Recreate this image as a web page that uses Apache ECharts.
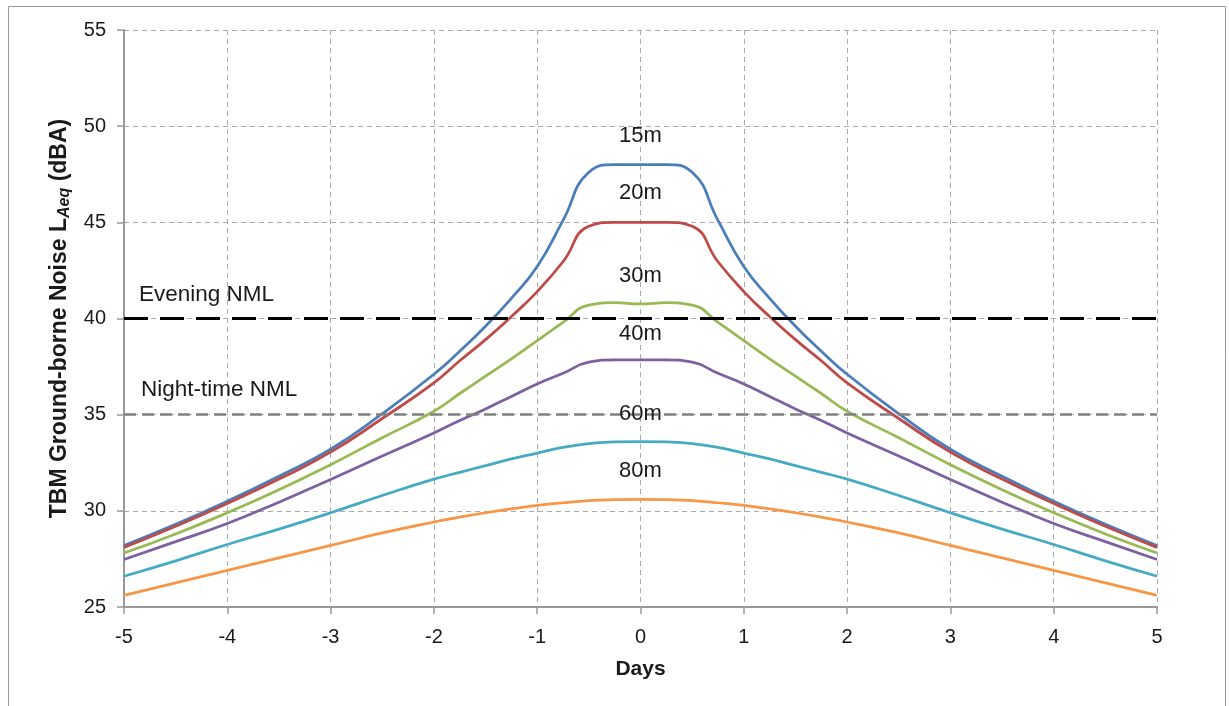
<!DOCTYPE html>
<html>
<head>
<meta charset="utf-8">
<script src="https://cdn.jsdelivr.net/npm/echarts@6/dist/echarts.min.js"></script>
<style>
html,body{margin:0;padding:0;background:#fff;}
#chart{width:1229px;height:706px;}
</style>
</head>
<body>
<div id="chart"></div>
<script>
// ---- data ----
const days = [-5, -4.5, -4, -3.5, -3, -2.5, -2, -1.75, -1.5, -1.25, -1, -0.75, -0.5, -0.25, 0, 0.25, 0.5, 0.75, 1, 1.25, 1.5, 1.75, 2, 2.5, 3, 3.5, 4, 4.5, 5];
const seriesNames = ['15m', '20m', '30m', '40m', '60m', '80m'];
const d15 = [28.2, 29.3, 30.5, 31.8, 33.2, 35.05, 37.1, 38.3, 39.6, 41.05, 42.7, 45.1, 47.6, 48.0, 48.0, 48.0, 47.6, 45.1, 42.7, 41.05, 39.6, 38.3, 37.1, 35.05, 33.2, 31.8, 30.5, 29.3, 28.2];
const d20 = [28.1, 29.2, 30.38, 31.65, 33.05, 34.8, 36.65, 37.8, 38.9, 40.1, 41.4, 42.95, 44.8, 45.0, 45.0, 45.0, 44.8, 42.95, 41.4, 40.1, 38.9, 37.8, 36.65, 34.8, 33.05, 31.65, 30.38, 29.2, 28.1];
const d30 = [27.81, 28.8, 29.9, 31.1, 32.4, 33.8, 35.18, 36.1, 37.0, 37.9, 38.85, 39.8, 40.7, 40.82, 40.76, 40.82, 40.7, 39.8, 38.85, 37.9, 37.0, 36.1, 35.18, 33.8, 32.4, 31.1, 29.9, 28.8, 27.81];
const d40 = [27.47, 28.4, 29.34, 30.45, 31.63, 32.85, 34.05, 34.7, 35.3, 35.95, 36.6, 37.15, 37.73, 37.85, 37.85, 37.85, 37.73, 37.15, 36.6, 35.95, 35.3, 34.7, 34.05, 32.85, 31.63, 30.45, 29.34, 28.4, 27.47];
const d60 = [26.6, 27.4, 28.25, 29.05, 29.9, 30.8, 31.65, 32.0, 32.35, 32.7, 33.0, 33.3, 33.5, 33.58, 33.6, 33.58, 33.5, 33.3, 33.0, 32.7, 32.35, 32.0, 31.65, 30.8, 29.9, 29.05, 28.25, 27.4, 26.6];
const d80 = [25.6, 26.25, 26.9, 27.55, 28.2, 28.85, 29.42, 29.67, 29.9, 30.1, 30.28, 30.42, 30.53, 30.58, 30.6, 30.58, 30.53, 30.42, 30.28, 30.1, 29.9, 29.67, 29.42, 28.85, 28.2, 27.55, 26.9, 26.25, 25.6];
const seriesData = [d15, d20, d30, d40, d60, d80];
const curveLabelY = [49.5, 46.55, 42.23, 39.2, 35.04, 32.05];
const eveningNML = 40;
const nightNML = 35;
const colors = ['#4A7EBB', '#BE4B48', '#98B954', '#7D60A0', '#46AAC5', '#F79646'];

const chart = echarts.init(document.getElementById('chart'));
const font = 'Liberation Sans, Arial, sans-serif';
const txt = '#1a1a1a';

const series = seriesNames.map((name, i) => ({
  name: name,
  type: 'line',
  data: days.map((x, j) => [x, seriesData[i][j]]),
  smooth: 0.5,
  symbol: 'none',
  lineStyle: { color: colors[i], width: 2.75 },
  z: 3
}));

// curve labels
series.push({
  name: 'labels',
  type: 'scatter',
  symbolSize: 1,
  itemStyle: { color: 'rgba(0,0,0,0)', opacity: 1 },
  data: seriesNames.map((n, i) => ({ value: [0, curveLabelY[i]], name: n })),
  label: {
    show: true, position: 'inside', formatter: p => p.name,
    fontFamily: font, fontSize: 22, color: txt, opacity: 1
  },
  z: 5,
  silent: true
});

// NML lines
series.push({
  name: 'nml',
  type: 'line',
  data: [],
  markLine: {
    silent: true,
    symbol: 'none',
    data: [
      { yAxis: eveningNML, lineStyle: { color: '#000', width: 3, type: [24, 12] },
        label: { show: true, formatter: 'Evening NML', position: 'insideStartTop', distance: [15, 12],
          fontFamily: font, fontSize: 22.5, color: txt } },
      { yAxis: nightNML, lineStyle: { color: '#808080', width: 2.5, type: [12, 6] },
        label: { show: true, formatter: 'Night-time NML', position: 'insideStartTop', distance: [17, 13],
          fontFamily: font, fontSize: 22.5, color: txt } }
    ]
  },
  z: 2
});

chart.setOption({
  animation: false,
  backgroundColor: '#fff',
  grid: { left: 124, right: 72, top: 30, bottom: 99, containLabel: false },
  xAxis: {
    type: 'value', min: -5, max: 5, interval: 1,
    name: 'Days', nameLocation: 'middle', nameGap: 52,
    nameTextStyle: { fontFamily: font, fontSize: 21, fontWeight: 'bold', color: txt },
    axisLine: { show: true, onZero: false, lineStyle: { color: '#999', width: 2 } },
    axisTick: { show: true, length: 7, lineStyle: { color: '#999', width: 1.5 } },
    axisLabel: { fontFamily: font, fontSize: 20, color: txt, margin: 20 },
    splitLine: { show: true, lineStyle: { color: '#aaa', width: 1, type: [5, 4] } }
  },
  yAxis: {
    type: 'value', min: 25, max: 55, interval: 5,
    name: '{b|TBM Ground-borne Noise L}{s|Aeq}{b| (dBA)}', nameLocation: 'middle', nameGap: 50,
    nameTextStyle: {
      rich: {
        b: { fontFamily: font, fontSize: 23, fontWeight: 'bold', color: txt, lineHeight: 26 },
        s: { fontFamily: font, fontSize: 16, fontWeight: 'bold', fontStyle: 'italic', color: txt, lineHeight: 26, verticalAlign: 'bottom', padding: [5, 0, 0, 0] }
      }
    },
    axisLine: { show: true, onZero: false, lineStyle: { color: '#999', width: 2 } },
    axisTick: { show: true, length: 7, lineStyle: { color: '#999', width: 1.5 } },
    axisLabel: { fontFamily: font, fontSize: 20, color: txt, margin: 18 },
    splitLine: { show: true, lineStyle: { color: '#aaa', width: 1, type: [5, 4] } }
  },
  graphic: [{
    type: 'rect', shape: { x: 8.5, y: 6.5, width: 1217, height: 710 },
    style: { fill: 'none', stroke: '#999', lineWidth: 1 }, silent: true, z: -10
  }],
  series: series
});
</script>
</body>
</html>
